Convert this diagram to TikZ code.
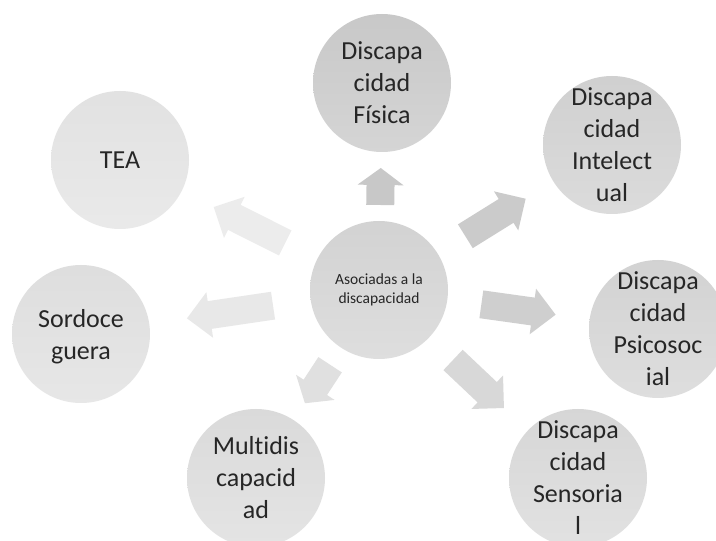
\documentclass[tikz,border=0pt]{standalone}
\usepackage{fontspec}
\setmainfont[Ligatures=NoCommon]{Carlito}
\usetikzlibrary{calc}
\definecolor{txt}{HTML}{262626}
\definecolor{a1}{HTML}{C8C8C8}
\definecolor{a2}{HTML}{CBCBCB}
\definecolor{a3}{HTML}{CFCFCF}
\definecolor{a4}{HTML}{D8D8D8}
\definecolor{a5}{HTML}{E0E0E0}
\definecolor{a6}{HTML}{E8E8E8}
\definecolor{a7}{HTML}{ECECEC}
\tikzset{
  bubble/.style={circle, minimum size=138pt, inner sep=0pt},
  lbl/.style={align=center, text=txt, inner sep=0pt, font=\fontsize{26}{32}\selectfont},
  pics/barrow/.style n args={2}{code={
    \fill[pic actions] ({-#1/2},-14) -- ({#1/2-#2},-14) -- ({#1/2-#2},-23) -- ({#1/2},0)
      -- ({#1/2-#2},23) -- ({#1/2-#2},14) -- ({-#1/2},14) -- cycle;
  }},
  arr/.style={pos=0.5, sloped, allow upside down}
}
\begin{document}
\begin{tikzpicture}[x=1pt,y=1pt]
\fill[white] (0,0) rectangle (716,541);
\useasboundingbox (0,0) rectangle (716,541);

% centre
\node[bubble, top color=gray!35, bottom color=gray!26, align=center, text=txt,
      font=\fontsize{15.5}{19.5}\selectfont] (ctr) at (379,251) {Asociadas a la\\discapacidad};

% outer circles
\node[bubble, top color=gray!43, bottom color=gray!33] (fis) at (382,458) {};
\node[bubble, top color=gray!37, bottom color=gray!28] (int) at (612,396) {};
\node[bubble, top color=gray!35, bottom color=gray!26] (psi) at (658,212) {};
\node[bubble, top color=gray!32, bottom color=gray!23] (sen) at (578,63) {};
\node[bubble, top color=gray!29, bottom color=gray!21] (mul) at (256,63) {};
\node[bubble, top color=gray!26, bottom color=gray!19] (sor) at (81,207) {};
\node[bubble, top color=gray!23, bottom color=gray!17] (tea) at (120,381) {};

\node[lbl] (fisT) at (fis) {Discapa\\cidad\\Física};
\node[lbl] (intT) at (int) {Discapa\\cidad\\Intelect\\ual};
\node[lbl] (psiT) at (psi) {Discapa\\cidad\\Psicosoc\\ial};
\node[lbl] (senT) at (sen) {Discapa\\cidad\\Sensoria\\l};
\node[lbl] (mulT) at (mul) {Multidis\\capacid\\ad};
\node[lbl] (sorT) at ([yshift=-3pt]sor) {Sordoce\\guera};
\node[lbl] (teaT) at (tea) {TEA};

% block arrows
\path (ctr) -- pic[arr, fill=a1]{barrow={37}{17}} (fis);
\path (ctr) -- pic[arr, fill=a2]{barrow={71}{23}} (int);
\path (ctr) -- pic[arr, fill=a3]{barrow={75}{23}} (psi);
\path (ctr) -- pic[arr, fill=a4]{barrow={70}{23}} (sen);
\path (ctr) -- pic[arr, fill=a5]{barrow={46}{19}} (mul);
\path (ctr) -- pic[arr, fill=a6]{barrow={87}{23}} (sor);
\path (ctr) -- pic[arr, fill=a7]{barrow={80}{23}} (tea);
\end{tikzpicture}
\end{document}
